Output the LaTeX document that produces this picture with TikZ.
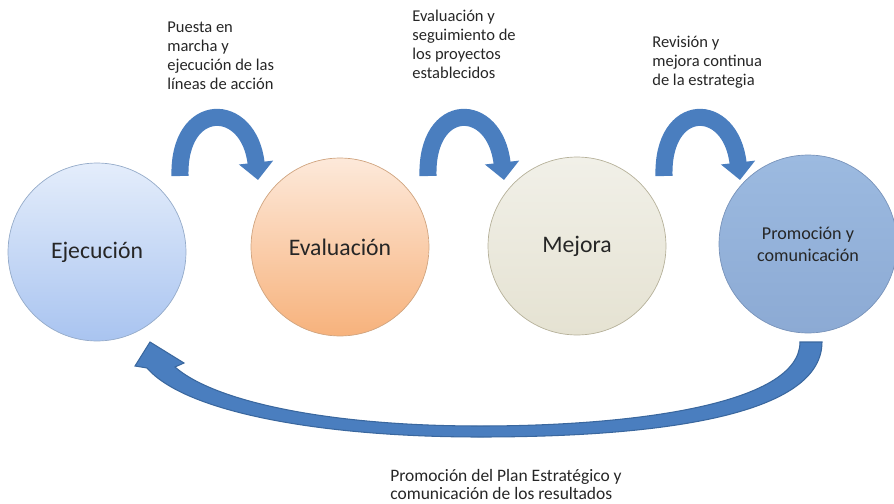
\documentclass[tikz,border=0pt]{standalone}
\usepackage{fontspec}
\setmainfont{Carlito}
\usetikzlibrary{arrows.meta}

\definecolor{texto}{HTML}{262626}
\definecolor{flecha}{HTML}{4A7EBF}
\definecolor{flechaborde}{HTML}{3A679E}
\definecolor{ejearriba}{HTML}{E4EDFB}
\definecolor{ejeabajo}{HTML}{A9C4F0}
\definecolor{ejeborde}{HTML}{95ABC9}
\definecolor{evaarriba}{HTML}{FDE9DA}
\definecolor{evaabajo}{HTML}{F7B27C}
\definecolor{evaborde}{HTML}{D0A47F}
\definecolor{mejarriba}{HTML}{F1F0E8}
\definecolor{mejabajo}{HTML}{E5E2D2}
\definecolor{mejborde}{HTML}{B6B19A}
\definecolor{proarriba}{HTML}{9CBAE0}
\definecolor{proabajo}{HTML}{8CAAD4}
\definecolor{proborde}{HTML}{7893BA}

\begin{document}
\begin{tikzpicture}[x=0.02cm,y=-0.02cm]
    \tikzstyle{etapa}=[circle, minimum size=3.56cm, inner sep=0pt, align=center, text=texto, font=\fontsize{13.5}{15}\selectfont]
    \tikzstyle{nota}=[anchor=north west, inner sep=0pt, align=left, text=texto, font=\fontsize{9.4}{10.8}\selectfont]
    \tikzstyle{giro}=[draw=flecha, line width=9.7pt, -{Triangle[length=10pt,width=19pt]}]

    \useasboundingbox (0,0) rectangle (894,504);

    % las cuatro etapas
    \node[etapa, draw=ejeborde, top color=ejearriba, bottom color=ejeabajo] (ejecucion) at (97,252) {Ejecución};
    \node[etapa, draw=evaborde, top color=evaarriba, bottom color=evaabajo] (evaluacion) at (340,247) {Evaluación};
    \node[etapa, draw=mejborde, top color=mejarriba, bottom color=mejabajo] (mejora) at (577,246) {Mejora};
    \node[etapa, draw=proborde, top color=proarriba, bottom color=proabajo, font=\fontsize{10.3}{12.5}\selectfont] (promocion) at (808,244) {Promoción y\\comunicación};

    % flechas entre etapas
    \coordinate (ini1) at (180,176); \coordinate (fin1) at (258,180);
    \coordinate (ini2) at (428,176); \coordinate (fin2) at (504,180);
    \coordinate (ini3) at (664,176); \coordinate (fin3) at (740,180);
    \draw[giro] (ini1) .. controls (178,100) and (249,100) .. (fin1);
    \draw[giro] (ini2) .. controls (426,100) and (495,100) .. (fin2);
    \draw[giro] (ini3) .. controls (662,100) and (731,100) .. (fin3);

    \node[nota] (puesta) at (167,22) {Puesta en\\marcha y\\ejecución de las\\líneas de acción};
    \node[nota] (seguimiento) at (412,10) {Evaluación y\\seguimiento de\\los proyectos\\establecidos};
    \node[nota] (revision) at (652,36) {Revisión y\\mejora continua\\de la estrategia};

    % flecha de vuelta
    \coordinate (colaizq) at (800,342); \coordinate (colader) at (822,342);
    \coordinate (punta) at (150,342);
    \filldraw[fill=flecha, draw=flechaborde, line width=0.6pt]
        (colader) .. controls (822,420) and (640,437) .. (480,437)
        .. controls (320,437) and (185,412) .. (147,368)
        -- (135,366) -- (punta) -- (184,363) -- (175,367)
        .. controls (215,402) and (330,426) .. (480,426)
        .. controls (630,426) and (800,405) .. (colaizq) -- cycle;

    \node[nota, font=\fontsize{9.95}{10.4}\selectfont] (plan) at (390,469) {Promoción del Plan Estratégico y\\comunicación de los resultados};
\end{tikzpicture}
\end{document}
